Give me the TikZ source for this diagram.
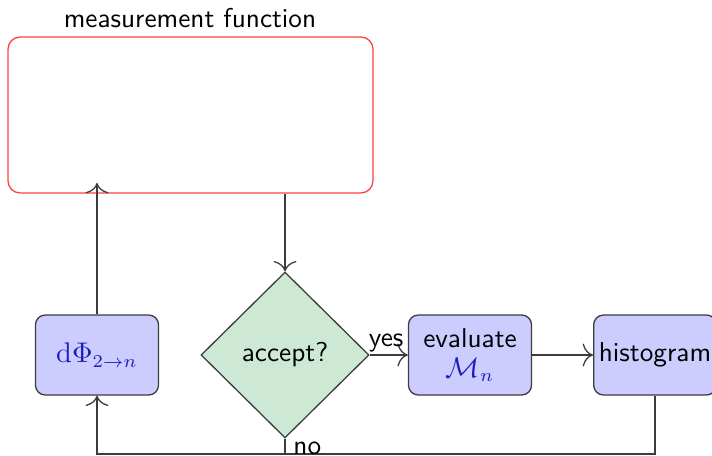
\documentclass[tikz,border=0pt]{standalone}
\usetikzlibrary{shapes.geometric,arrows.meta}
\definecolor{boxfill}{RGB}{204,204,255}
\definecolor{decfill}{RGB}{205,233,214}
\definecolor{linegray}{RGB}{60,60,60}
\definecolor{mathblue}{RGB}{30,30,190}
\begin{document}
\begin{tikzpicture}[x=0.385pt,y=-0.385pt,
  font=\sffamily\fontsize{10.5}{12.6}\selectfont,
  line width=0.5pt,
  >={To[length=4pt,width=8.8pt]},
  conn/.style={draw=linegray,->},
  plain/.style={draw=linegray},
  procbox/.style={draw=linegray,fill=boxfill,rounded corners=3.8pt,
    minimum width=47.4pt,minimum height=30.8pt,inner sep=2pt,align=center},
  decision/.style={diamond,draw=linegray,fill=decfill,inner sep=0pt,
    minimum width=64.7pt,minimum height=63.9pt},
  framebox/.style={draw=red!75,rounded corners=4.6pt,
    minimum width=140.5pt,minimum height=60pt}]
\useasboundingbox (0,0) rectangle (712,456);
\clip (0,0) rectangle (712,456);

% measurement function frame and its title
\node[framebox] (mf) at (190.5,115) {};
\node (mftitle) at (190,18) {measurement function};

% flow nodes
\node[procbox] (ps) at (97,355) {$\color{mathblue}\mathrm{d}\Phi_{2\to n}$};
\node[decision] (acc) at (285,355) {accept?};
\node[procbox] (ev) at (470,355) {evaluate\\[-1pt]$\color{mathblue}\mathcal{M}_n$};
\node[procbox,minimum width=47pt] (hist) at (655,355) {histogram};

% connectors
\coordinate (mfin) at (97,183);
\coordinate (loop) at (97,454);
\draw[conn] (ps.north) -- (mfin);
\draw[conn] (acc.north |- mf.south) -- (acc.north);
\draw[conn] (acc.east) -- node[above,inner sep=1pt,xshift=-1pt] {yes} (ev.west);
\draw[conn] (ev.east) -- (hist.west);
\draw[conn] (hist.south) |- (loop) -- (ps.south);
\draw[plain] (acc.south) -- (acc.south |- loop)
  node[pos=0,anchor=north west,inner sep=1pt,xshift=2pt] {no};
\end{tikzpicture}
\end{document}
